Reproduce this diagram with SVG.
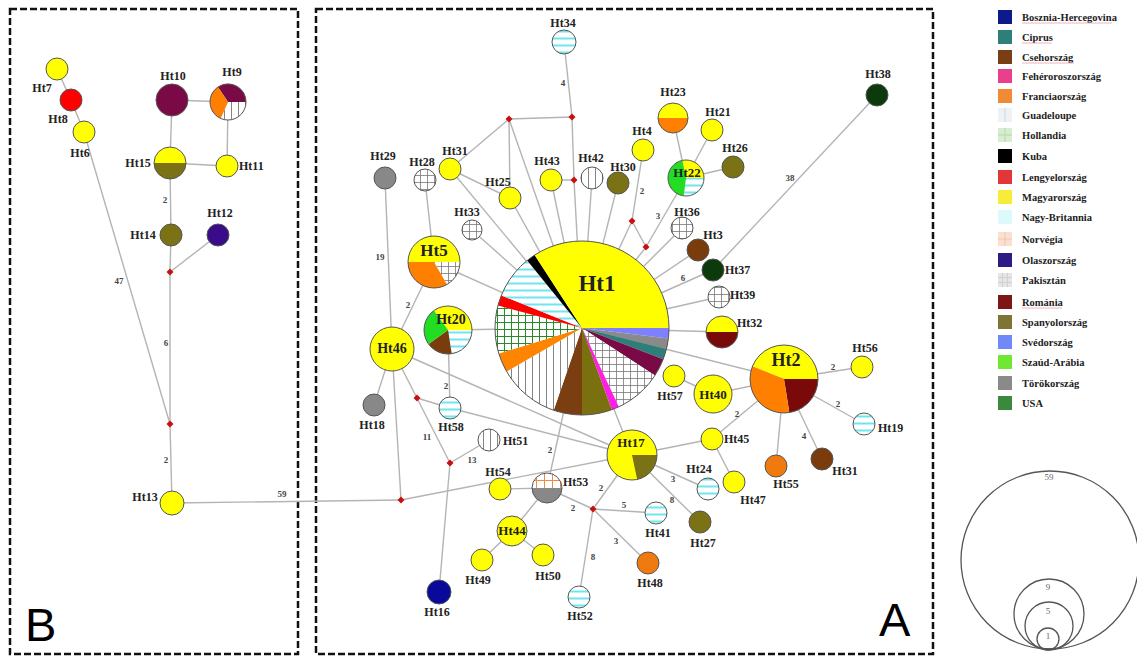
<svg xmlns="http://www.w3.org/2000/svg" width="1137" height="656" viewBox="0 0 1137 656">
<style>
.e{stroke:#b4b4b4;stroke-width:1.4;fill:none}
.o{fill:none;stroke:#555;stroke-width:1}
.n{stroke:#555;stroke-width:1}
.t{font-family:"Liberation Serif",serif;font-weight:bold;font-size:12px;fill:#222;text-anchor:middle}
.ts{text-anchor:start}
.el{font-family:"Liberation Serif",serif;font-weight:bold;font-size:9px;fill:#444;text-anchor:middle}
.big{font-family:"Liberation Sans",sans-serif;font-size:47px;fill:#000}
.lg{font-family:"Liberation Serif",serif;font-weight:bold;font-size:10.5px;fill:#222}
.ul{stroke:#f0a0a8;stroke-width:0.8}
.sc{fill:none;stroke:#555;stroke-width:1.3}
.sct{font-family:"Liberation Serif",serif;font-size:9px;fill:#666;text-anchor:middle}
.panel{fill:none;stroke:#111;stroke-width:2.5;stroke-dasharray:7 3}
.Y{fill:#ffff00}.O{fill:#7a7214}.OR{fill:#ff8000}.BR{fill:#7a3c0c}.MA{fill:#7a0a45}.RO{fill:#7a0a0a}.GR{fill:#888}.DG{fill:#0c3a0c}.NB{fill:url(#pNB)}.PK{fill:url(#pPak)}.GU{fill:url(#pGuad)}
</style>
<defs>
<pattern id="pNB" width="7" height="7" patternUnits="userSpaceOnUse"><rect width="7" height="7" fill="#fff"/><rect y="2.5" width="7" height="2" fill="#6fe6ef"/></pattern>
<pattern id="pPak" width="7" height="7" patternUnits="userSpaceOnUse"><rect width="7" height="7" fill="#fff"/><path d="M0,0.5H7M0.5,0V7" stroke="#777" stroke-width="0.8"/></pattern>
<pattern id="pGuad" width="7" height="7" patternUnits="userSpaceOnUse"><rect width="7" height="7" fill="#fff"/><path d="M0.5,0V7" stroke="#666" stroke-width="0.8"/></pattern>
<pattern id="pHol" width="7" height="7" patternUnits="userSpaceOnUse"><rect width="7" height="7" fill="#fff"/><path d="M0,0.5H7M0.5,0V7" stroke="#2a8a2a" stroke-width="1"/></pattern>
<pattern id="pNor" width="8" height="8" patternUnits="userSpaceOnUse"><rect width="8" height="8" fill="#fff"/><path d="M0,0.5H8M0.5,0V8" stroke="#f08a40" stroke-width="1"/></pattern>
<path id="dm" d="M0,-3.5L3.5,0L0,3.5L-3.5,0Z" fill="#c81010"/>
</defs>
<rect width="1137" height="656" fill="#fff"/>

<!-- panels -->
<rect class="panel" x="10" y="9" width="288" height="645"/>
<rect class="panel" x="316" y="9" width="617" height="645"/>
<text class="big" x="25" y="641">B</text>
<text class="big" x="879" y="636">A</text>

<!-- connectors -->
<g id="connectors">
<line class="e" x1="57" y1="69" x2="71" y2="100"/>
<line class="e" x1="71" y1="100" x2="84" y2="132"/>
<line class="e" x1="84" y1="132" x2="170" y2="424"/>
<line class="e" x1="172" y1="100" x2="228" y2="102"/>
<line class="e" x1="172" y1="100" x2="170" y2="163"/>
<line class="e" x1="228" y1="102" x2="227" y2="166"/>
<line class="e" x1="170" y1="163" x2="227" y2="166"/>
<line class="e" x1="170" y1="163" x2="171" y2="235"/>
<line class="e" x1="171" y1="235" x2="170" y2="272"/>
<line class="e" x1="218" y1="235" x2="170" y2="272"/>
<line class="e" x1="170" y1="272" x2="170" y2="424"/>
<line class="e" x1="170" y1="424" x2="172" y2="503"/>
<line class="e" x1="172" y1="503" x2="401" y2="500"/>

<line class="e" x1="564" y1="42" x2="572" y2="117"/>
<line class="e" x1="509" y1="119" x2="572" y2="117"/>
<line class="e" x1="509" y1="119" x2="450" y2="169"/>
<line class="e" x1="509" y1="119" x2="510" y2="198"/>
<line class="e" x1="509" y1="119" x2="582" y2="328"/>
<line class="e" x1="572" y1="117" x2="574" y2="180"/>
<line class="e" x1="574" y1="180" x2="582" y2="328"/>
<line class="e" x1="551" y1="180" x2="574" y2="180"/>
<line class="e" x1="551" y1="180" x2="582" y2="328"/>
<line class="e" x1="592" y1="178" x2="582" y2="328"/>
<line class="e" x1="618" y1="183" x2="582" y2="328"/>
<line class="e" x1="450" y1="169" x2="510" y2="198"/>
<line class="e" x1="450" y1="169" x2="582" y2="328"/>
<line class="e" x1="510" y1="198" x2="582" y2="328"/>
<line class="e" x1="472" y1="230" x2="582" y2="328"/>
<line class="e" x1="425" y1="180" x2="434" y2="262"/>
<line class="e" x1="385" y1="178" x2="392" y2="349"/>
<line class="e" x1="434" y1="262" x2="392" y2="349"/>
<line class="e" x1="434" y1="262" x2="582" y2="328"/>
<line class="e" x1="448" y1="330" x2="582" y2="328"/>
<line class="e" x1="448" y1="330" x2="450" y2="408"/>
<line class="e" x1="392" y1="349" x2="374" y2="405"/>
<line class="e" x1="392" y1="349" x2="450" y2="463"/>
<line class="e" x1="417" y1="398" x2="450" y2="408"/>
<line class="e" x1="450" y1="408" x2="632" y2="455"/>
<line class="e" x1="392" y1="349" x2="632" y2="455"/>
<line class="e" x1="392" y1="349" x2="401" y2="500"/>
<line class="e" x1="401" y1="500" x2="632" y2="455"/>
<line class="e" x1="489" y1="440" x2="450" y2="463"/>
<line class="e" x1="450" y1="463" x2="439" y2="592"/>
<line class="e" x1="500" y1="489" x2="547" y2="488"/>
<line class="e" x1="547" y1="488" x2="582" y2="328"/>
<line class="e" x1="547" y1="488" x2="512" y2="531"/>
<line class="e" x1="512" y1="531" x2="482" y2="560"/>
<line class="e" x1="512" y1="531" x2="543" y2="555"/>
<line class="e" x1="547" y1="488" x2="593" y2="509"/>
<line class="e" x1="593" y1="509" x2="632" y2="455"/>
<line class="e" x1="593" y1="509" x2="656" y2="513"/>
<line class="e" x1="593" y1="509" x2="648" y2="563"/>
<line class="e" x1="593" y1="509" x2="579" y2="597"/>
<line class="e" x1="582" y1="328" x2="632" y2="455"/>
<line class="e" x1="632" y1="455" x2="708" y2="489"/>
<line class="e" x1="632" y1="455" x2="700" y2="522"/>
<line class="e" x1="632" y1="455" x2="712" y2="439"/>
<line class="e" x1="712" y1="439" x2="734" y2="482"/>
<line class="e" x1="712" y1="439" x2="784" y2="379"/>
<line class="e" x1="784" y1="379" x2="776" y2="466"/>
<line class="e" x1="784" y1="379" x2="822" y2="459"/>
<line class="e" x1="784" y1="379" x2="862" y2="367"/>
<line class="e" x1="784" y1="379" x2="864" y2="424"/>
<line class="e" x1="784" y1="379" x2="713" y2="394"/>
<line class="e" x1="713" y1="394" x2="674" y2="376"/>
<line class="e" x1="582" y1="328" x2="784" y2="379"/>
<line class="e" x1="582" y1="328" x2="722" y2="332"/>
<line class="e" x1="582" y1="328" x2="719" y2="297"/>
<line class="e" x1="582" y1="328" x2="713" y2="270"/>
<line class="e" x1="582" y1="328" x2="698" y2="250"/>
<line class="e" x1="582" y1="328" x2="682" y2="228"/>
<line class="e" x1="713" y1="270" x2="877" y2="95"/>
<line class="e" x1="643" y1="150" x2="632" y2="221"/>
<line class="e" x1="632" y1="221" x2="646" y2="247"/>
<line class="e" x1="646" y1="247" x2="686" y2="178"/>
<line class="e" x1="632" y1="221" x2="582" y2="328"/>
<line class="e" x1="646" y1="247" x2="582" y2="328"/>
<line class="e" x1="686" y1="178" x2="673" y2="118"/>
<line class="e" x1="686" y1="178" x2="712" y2="130"/>
<line class="e" x1="686" y1="178" x2="733" y2="167"/>

<text class="el" x="119" y="284">47</text>
<text class="el" x="165" y="203">2</text>
<text class="el" x="166" y="346">6</text>
<text class="el" x="166" y="463">2</text>
<text class="el" x="282" y="497">59</text>
<text class="el" x="563" y="86">4</text>
<text class="el" x="380" y="260">19</text>
<text class="el" x="408" y="308">2</text>
<text class="el" x="446" y="389">2</text>
<text class="el" x="427" y="440">11</text>
<text class="el" x="472" y="463">13</text>
<text class="el" x="550" y="453">2</text>
<text class="el" x="573" y="511">2</text>
<text class="el" x="601" y="491">2</text>
<text class="el" x="624" y="508">5</text>
<text class="el" x="616" y="544">3</text>
<text class="el" x="593" y="560">8</text>
<text class="el" x="673" y="482">3</text>
<text class="el" x="672" y="503">8</text>
<text class="el" x="737" y="417">2</text>
<text class="el" x="804" y="439">4</text>
<text class="el" x="833" y="370">2</text>
<text class="el" x="838" y="407">2</text>
<text class="el" x="683" y="281">6</text>
<text class="el" x="790" y="181">38</text>
<text class="el" x="642" y="194">2</text>
<text class="el" x="658" y="219">3</text>

<use href="#dm" x="170" y="272"/>
<use href="#dm" x="170" y="424"/>
<use href="#dm" x="401" y="500"/>
<use href="#dm" x="572" y="117"/>
<use href="#dm" x="509" y="119"/>
<use href="#dm" x="574" y="180"/>
<use href="#dm" x="417" y="398"/>
<use href="#dm" x="450" y="463"/>
<use href="#dm" x="593" y="509"/>
<use href="#dm" x="632" y="221"/>
<use href="#dm" x="646" y="247"/>
</g>

<!-- Panel B nodes -->
<g id="Ht7"><circle class="n Y" cx="57" cy="69" r="11"/><text class="t" x="42" y="92">Ht7</text></g>
<g id="Ht8"><circle class="n" cx="71" cy="100" r="11" fill="#ff0000"/><text class="t" x="58" y="123">Ht8</text></g>
<g id="Ht6"><circle class="n Y" cx="84" cy="132" r="11"/><text class="t" x="80" y="157">Ht6</text></g>
<g id="Ht10"><circle class="n MA" cx="172" cy="100" r="16"/><text class="t" x="173" y="80">Ht10</text></g>
<g id="Ht9">
<path class="MA" d="M228,102L217.93,87.08A18,18 0 0 1 246,102Z"/>
<path class="GU" d="M228,102L246,102A18,18 0 0 1 220.68,118.44Z"/>
<path class="OR" d="M228,102L220.68,118.44A18,18 0 0 1 217.93,87.08Z"/>
<circle class="o" cx="228" cy="102" r="18"/><text class="t" x="232" y="76">Ht9</text></g>
<g id="Ht15">
<path class="Y" d="M154,163A16,16 0 0 1 186,163Z"/><path class="O" d="M186,163A16,16 0 0 1 154,163Z"/>
<circle class="o" cx="170" cy="163" r="16"/><text class="t" x="138" y="167">Ht15</text></g>
<g id="Ht11"><circle class="n Y" cx="227" cy="166" r="11"/><text class="t ts" x="239" y="170">Ht11</text></g>
<g id="Ht14"><circle class="n O" cx="171" cy="235" r="11"/><text class="t" x="143" y="239">Ht14</text></g>
<g id="Ht12"><circle class="n" cx="218" cy="235" r="11" fill="#3a0c8a"/><text class="t" x="220" y="217">Ht12</text></g>
<g id="Ht13"><circle class="n Y" cx="172" cy="503" r="12"/><text class="t" x="145" y="501">Ht13</text></g>

<!-- Panel A nodes -->
<g id="Ht1">
<path fill="#7f80ff" d="M582,328L669,328A87,87 0 0 1 668.35,338.6Z"/>
<path fill="#8a8a8a" d="M582,328L668.35,338.6A87,87 0 0 1 666.42,349.05Z"/>
<path fill="#2e7f7a" d="M582,328L666.42,349.05A87,87 0 0 1 663.22,359.18Z"/>
<path fill="#7a0a45" d="M582,328L663.22,359.18A87,87 0 0 1 654.97,375.38Z"/>
<path fill="url(#pPak)" d="M582,328L654.97,375.38A87,87 0 0 1 618.77,406.85Z"/>
<path fill="#ff1ee6" d="M582,328L618.77,406.85A87,87 0 0 1 611.75,409.75Z"/>
<path fill="#7a7010" d="M582,328L611.75,409.75A87,87 0 0 1 582,415Z"/>
<path fill="#7a3e10" d="M582,328L582,415A87,87 0 0 1 553.68,410.26Z"/>
<path fill="url(#pGuad)" d="M582,328L553.68,410.26A87,87 0 0 1 506.66,371.5Z"/>
<path fill="#ff8400" d="M582,328L506.66,371.5A87,87 0 0 1 498.8,353.44Z"/>
<path fill="url(#pHol)" d="M582,328L498.8,353.44A87,87 0 0 1 497.96,305.48Z"/>
<path fill="#ff0000" d="M582,328L497.96,305.48A87,87 0 0 1 501.33,295.41Z"/>
<path fill="url(#pNB)" d="M582,328L501.33,295.41A87,87 0 0 1 527.25,260.39Z"/>
<path fill="#000" d="M582,328L527.25,260.39A87,87 0 0 1 534.62,255.03Z"/>
<path fill="#ffff00" d="M582,328L534.62,255.03A87,87 0 0 1 669,328Z"/>
<circle class="o" cx="582" cy="328" r="87"/>
<text class="t" x="597" y="291" style="font-size:23px">Ht1</text></g>

<g id="Ht2">
<path class="Y" d="M784,379L752.48,366.26A34,34 0 0 1 818,379Z"/>
<path class="RO" d="M784,379L818,379A34,34 0 0 1 789.32,412.58Z"/>
<path class="OR" d="M784,379L789.32,412.58A34,34 0 0 1 752.48,366.26Z"/>
<circle class="o" cx="784" cy="379" r="34"/><text class="t" x="786" y="366" style="font-size:18px">Ht2</text></g>

<g id="Ht5">
<path class="Y" d="M408,262A26,26 0 0 1 460,262Z"/>
<path class="PK" d="M434,262L460,262A26,26 0 0 1 447,284.52Z"/>
<path class="OR" d="M434,262L447,284.52A26,26 0 0 1 408,262Z"/>
<circle class="o" cx="434" cy="262" r="26"/><text class="t" x="434" y="256" style="font-size:17px">Ht5</text></g>

<g id="Ht20">
<path class="Y" d="M448,330L433.89,310.58A24,24 0 0 1 472,330Z"/>
<path class="NB" d="M448,330L472,330A24,24 0 0 1 451.75,353.7Z"/>
<path class="BR" d="M448,330L451.75,353.7A24,24 0 0 1 428.58,344.11Z"/>
<path fill="#22dd22" d="M448,330L428.58,344.11A24,24 0 0 1 433.89,310.58Z"/>
<circle class="o" cx="448" cy="330" r="24"/><text class="t" x="451" y="324" style="font-size:14px">Ht20</text></g>

<g id="Ht46"><circle class="n Y" cx="392" cy="349" r="22"/><text class="t" x="392" y="353" style="font-size:14px">Ht46</text></g>

<g id="Ht17">
<circle class="Y" cx="632" cy="455" r="25"/>
<path class="O" d="M632,455L657,455A25,25 0 0 1 637.2,479.45Z"/>
<circle class="o" cx="632" cy="455" r="25"/><text class="t" x="631" y="447" style="font-size:13px">Ht17</text></g>

<g id="Ht22">
<path class="Y" d="M686,178L682.26,160.39A18,18 0 0 1 704,178Z"/>
<path class="NB" d="M686,178L704,178A18,18 0 0 1 683.81,195.87Z"/>
<path fill="#22dd22" d="M686,178L683.81,195.87A18,18 0 0 1 682.26,160.39Z"/>
<circle class="o" cx="686" cy="178" r="18"/><text class="t" x="687" y="177" style="font-size:13px">Ht22</text></g>

<g id="Ht23">
<path class="Y" d="M658,118A15,15 0 0 1 688,118Z"/><path class="OR" d="M688,118A15,15 0 0 1 658,118Z"/>
<circle class="o" cx="673" cy="118" r="15"/><text class="t" x="673" y="96">Ht23</text></g>

<g id="Ht32">
<path class="Y" d="M706,332A16,16 0 0 1 738,332Z"/><path class="RO" d="M738,332A16,16 0 0 1 706,332Z"/>
<circle class="o" cx="722" cy="332" r="16"/><text class="t ts" x="737" y="327">Ht32</text></g>

<g id="Ht53">
<path fill="url(#pNor)" d="M532,488A15,15 0 0 1 562,488Z"/><path class="GR" d="M562,488A15,15 0 0 1 532,488Z"/>
<circle class="o" cx="547" cy="488" r="15"/><text class="t ts" x="563" y="486">Ht53</text></g>

<g id="Ht34"><circle class="n NB" cx="564" cy="42" r="12"/><text class="t" x="563" y="27">Ht34</text></g>
<g id="Ht31"><circle class="n Y" cx="450" cy="169" r="11"/><text class="t" x="455" y="155">Ht31</text></g>
<g id="Ht29"><circle class="n GR" cx="385" cy="178" r="11"/><text class="t" x="383" y="160">Ht29</text></g>
<g id="Ht28"><circle class="n PK" cx="425" cy="180" r="11"/><text class="t" x="422" y="166">Ht28</text></g>
<g id="Ht25"><circle class="n Y" cx="510" cy="198" r="11"/><text class="t" x="498" y="186">Ht25</text></g>
<g id="Ht43"><circle class="n Y" cx="551" cy="180" r="11"/><text class="t" x="547" y="165">Ht43</text></g>
<g id="Ht42"><circle class="n GU" cx="592" cy="178" r="11"/><text class="t" x="591" y="162">Ht42</text></g>
<g id="Ht33"><circle class="n PK" cx="472" cy="230" r="10"/><text class="t" x="467" y="216">Ht33</text></g>
<g id="Ht30"><circle class="n O" cx="618" cy="183" r="11"/><text class="t" x="623" y="171">Ht30</text></g>
<g id="Ht4"><circle class="n Y" cx="643" cy="150" r="11"/><text class="t" x="642" y="135">Ht4</text></g>
<g id="Ht21"><circle class="n Y" cx="712" cy="130" r="11"/><text class="t" x="718" y="116">Ht21</text></g>
<g id="Ht26"><circle class="n O" cx="733" cy="167" r="11"/><text class="t" x="735" y="152">Ht26</text></g>
<g id="Ht36"><circle class="n PK" cx="682" cy="228" r="11"/><text class="t" x="687" y="216">Ht36</text></g>
<g id="Ht3"><circle class="n BR" cx="698" cy="250" r="11"/><text class="t" x="713" y="239">Ht3</text></g>
<g id="Ht38"><circle class="n DG" cx="877" cy="95" r="11"/><text class="t" x="878" y="78">Ht38</text></g>
<g id="Ht37"><circle class="n DG" cx="713" cy="270" r="11"/><text class="t ts" x="725" y="274">Ht37</text></g>
<g id="Ht39"><circle class="n PK" cx="719" cy="297" r="11"/><text class="t ts" x="730" y="299">Ht39</text></g>
<g id="Ht56"><circle class="n Y" cx="862" cy="367" r="11"/><text class="t" x="865" y="352">Ht56</text></g>
<g id="Ht19"><circle class="n NB" cx="864" cy="424" r="11"/><text class="t ts" x="878" y="432">Ht19</text></g>
<g id="Ht57"><circle class="n Y" cx="674" cy="376" r="11"/><text class="t" x="670" y="400">Ht57</text></g>
<g id="Ht40"><circle class="n Y" cx="713" cy="394" r="19"/><text class="t" x="713" y="399" style="font-size:13px">Ht40</text></g>
<g id="Ht45"><circle class="n Y" cx="712" cy="439" r="11"/><text class="t ts" x="724" y="443">Ht45</text></g>
<g id="Ht47"><circle class="n Y" cx="734" cy="482" r="11"/><text class="t" x="753" y="504">Ht47</text></g>
<g id="Ht55"><circle class="n" cx="776" cy="466" r="11" fill="#f07a10"/><text class="t" x="786" y="488">Ht55</text></g>
<g id="Ht31b"><circle class="n BR" cx="822" cy="459" r="11"/><text class="t" x="845" y="475">Ht31</text></g>
<g id="Ht24"><circle class="n NB" cx="708" cy="489" r="11"/><text class="t" x="699" y="473">Ht24</text></g>
<g id="Ht27"><circle class="n O" cx="700" cy="522" r="11"/><text class="t" x="703" y="547">Ht27</text></g>
<g id="Ht41"><circle class="n NB" cx="656" cy="513" r="11"/><text class="t" x="658" y="537">Ht41</text></g>
<g id="Ht48"><circle class="n" cx="648" cy="563" r="11" fill="#f07a10"/><text class="t" x="650" y="587">Ht48</text></g>
<g id="Ht52"><circle class="n NB" cx="579" cy="597" r="11"/><text class="t" x="580" y="620">Ht52</text></g>
<g id="Ht18"><circle class="n GR" cx="374" cy="405" r="11"/><text class="t" x="372" y="429">Ht18</text></g>
<g id="Ht58"><circle class="n NB" cx="450" cy="408" r="11"/><text class="t" x="451" y="431">Ht58</text></g>
<g id="Ht51"><circle class="n GU" cx="489" cy="440" r="11"/><text class="t ts" x="503" y="445">Ht51</text></g>
<g id="Ht54"><circle class="n Y" cx="500" cy="489" r="11"/><text class="t" x="498" y="476">Ht54</text></g>
<g id="Ht44"><circle class="n Y" cx="512" cy="531" r="15"/><text class="t" x="512" y="535" style="font-size:13px">Ht44</text></g>
<g id="Ht49"><circle class="n Y" cx="482" cy="560" r="11"/><text class="t" x="478" y="584">Ht49</text></g>
<g id="Ht50"><circle class="n Y" cx="543" cy="555" r="11"/><text class="t" x="548" y="580">Ht50</text></g>
<g id="Ht16"><circle class="n" cx="439" cy="592" r="12" fill="#0a0a9a"/><text class="t" x="437" y="616">Ht16</text></g>

<!-- legend -->
<g id="legend">
<rect x="998" y="10" width="14" height="14" fill="#0c1a8c"/><text class="lg" x="1022" y="21">Bosznia-Hercegovina</text><line class="ul" x1="1022" y1="23" x2="1112" y2="23"/>
<rect x="998" y="30" width="14" height="14" fill="#2e7f7a"/><text class="lg" x="1022" y="41">Ciprus</text><line class="ul" x1="1022" y1="43" x2="1052" y2="43"/>
<rect x="998" y="50" width="14" height="14" fill="#7a3e14"/><text class="lg" x="1022" y="61">Csehország</text><line class="ul" x1="1022" y1="63" x2="1074" y2="63"/>
<rect x="998" y="69" width="14" height="14" fill="#e8408c"/><text class="lg" x="1022" y="80">Fehéroroszország</text>
<rect x="998" y="89" width="14" height="14" fill="#f08a34"/><text class="lg" x="1022" y="100">Franciaország</text>
<rect x="998" y="108" width="14" height="14" fill="#eef2f5"/><path d="M1005,108V122" stroke="#cfd8de"/><text class="lg" x="1022" y="119">Guadeloupe</text>
<rect x="998" y="128" width="14" height="14" fill="#d8ecd0"/><path d="M1005,128V142M998,135H1012" stroke="#b8d8ae"/><text class="lg" x="1022" y="139">Hollandia</text>
<rect x="998" y="149" width="14" height="14" fill="#000"/><text class="lg" x="1022" y="160">Kuba</text>
<rect x="998" y="170" width="14" height="14" fill="#e03838"/><text class="lg" x="1022" y="181">Lengyelország</text>
<rect x="998" y="190" width="14" height="14" fill="#f8ec3a"/><text class="lg" x="1022" y="201">Magyarország</text>
<rect x="998" y="210" width="14" height="14" fill="#dcf9fb"/><text class="lg" x="1022" y="221">Nagy-Britannia</text>
<rect x="998" y="232" width="14" height="14" fill="#fbe0d0"/><path d="M1005,232V246M998,239H1012" stroke="#f2c6ae"/><text class="lg" x="1022" y="243">Norvégia</text>
<rect x="998" y="253" width="14" height="14" fill="#2c1c86"/><text class="lg" x="1022" y="264">Olaszország</text>
<rect x="998" y="273" width="14" height="14" fill="#e6e6e6"/><path d="M1002.5,273V287M1007.5,273V287M998,277.5H1012M998,282.5H1012" stroke="#d0d0d0"/><text class="lg" x="1022" y="284">Pakisztán</text>
<rect x="998" y="295" width="14" height="14" fill="#7e1616"/><text class="lg" x="1022" y="306">Románia</text><line class="ul" x1="1022" y1="308" x2="1062" y2="308"/>
<rect x="998" y="315" width="14" height="14" fill="#7d7436"/><text class="lg" x="1022" y="326">Spanyolország</text>
<rect x="998" y="335" width="14" height="14" fill="#7088f8"/><text class="lg" x="1022" y="346">Svédország</text>
<rect x="998" y="355" width="14" height="14" fill="#6ee832"/><text class="lg" x="1022" y="366">Szaúd-Arábia</text>
<rect x="998" y="376" width="14" height="14" fill="#8a8a8a"/><text class="lg" x="1022" y="387">Törökország</text>
<rect x="998" y="396" width="14" height="14" fill="#3a8a3e"/><text class="lg" x="1022" y="407">USA</text>
</g>

<!-- size scale -->
<g id="scale">
<circle class="sc" cx="1050" cy="560" r="89"/>
<circle class="sc" cx="1049" cy="614" r="35"/>
<circle class="sc" cx="1049" cy="626" r="24"/>
<circle class="sc" cx="1048" cy="639" r="11"/>
<text class="sct" x="1049" y="480">59</text>
<text class="sct" x="1048" y="590">9</text>
<text class="sct" x="1048" y="614">5</text>
<text class="sct" x="1048" y="639">1</text>
</g>
</svg>
